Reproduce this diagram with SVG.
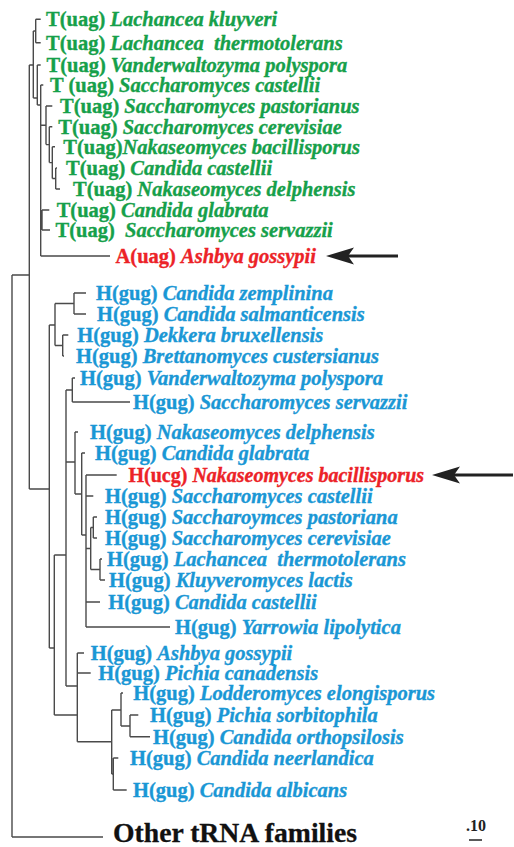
<svg xmlns="http://www.w3.org/2000/svg" width="514" height="847" viewBox="0 0 514 847">
<style>
.lbl{font-family:"Liberation Serif","Times New Roman",serif;font-weight:bold;font-size:20.5px;stroke-width:0.35px}
.sp{font-style:italic}
.g{fill:#16a04a;stroke:#16a04a}
.b{fill:#1a97d5;stroke:#1a97d5}
.r{fill:#ec2227;stroke:#ec2227}
.br{fill:none;stroke:#4a4a4a;stroke-width:1.4}
.arr{stroke:#222;stroke-width:3;fill:none}
.ah{fill:#222}
</style>
<rect width="514" height="847" fill="#fff"/>
<g id="connectors">
<path class="br" d="M12 275V837M12 275H29.3M12 837H103M29.3 65V489M29.3 65H33.3M29.3 489H49.3
M33.3 31V98M33.3 31H35.7M35.7 19.3V42.7M35.7 19.3H40.7M35.7 42.7H40.7M33.3 98H37.3
M37.3 65V105M37.3 65H40.7M37.3 105H40.7M40.7 85V256M40.7 85H43.3M40.7 125.3H46
M46 106V144.6M46 106H52.3M46 144.6H49.3M49.3 126.7V162.6M49.3 126.7H52.3M49.3 162.6H52.3
M52.3 146.7V178.5M52.3 146.7H55M52.3 178.5H55.7M55.7 168V189M55.7 168H57M55.7 189H60
M40.7 220H42M42 210V230M42 210H49.3M42 230H50M40.7 256H110"/>
<path class="br" d="M49.3 325V648M49.3 325H55M55 303.5V345.5M55 303.5H74M55 345.5H62.7
M74 293V314M74 293H86M74 314H86M62.7 335V356M62.7 335H68.3M62.7 356H64
M49.3 648H54.3M54.3 555V715M54.3 555H66M54.3 715H77.3
M66 390V686M66 390H72.3M66 462H75M66 686H77.3
M72.3 378V402M72.3 378H75M72.3 402H130
M75 432V494M75 432H78M75 494H81.7M81.7 453V535M81.7 453H85M81.7 535H86
M86 475V627M86 475H116.7M86 496H93.3M86 548.5H90.7M86 602H100M86 627H170
M90.7 527.5V569.5M90.7 527.5H93.3M90.7 569.5H100M93.3 517V538M93.3 517H97M93.3 538H97
M100 559V580M100 559H102M100 580H105
M77.3 653V741.7M77.3 653H84M77.3 673H90.7M77.3 741.7H111.7
M111.7 710V774M111.7 710H121M111.7 774H113.3M121 693V726M121 693H123M121 726H130
M130 715V736.7M130 715H138.3M130 736.7H150M113.3 758V790M113.3 758H118.3M113.3 790H126.7"/>
<path class="arr" d="M398 256H346"/>
<polygon class="ah" points="326,256 354,247.5 348,256 354,264.5"/>
<path class="arr" d="M513 475H452"/>
<polygon class="ah" points="432,475 460,466.5 454,475 460,483.5"/>
</g>
<g id="t1"><text class="lbl g" x="46" y="26.3">T(uag) <tspan class="sp">Lachancea kluyveri</tspan></text></g>
<g id="t2"><text class="lbl g" x="46" y="49.7" xml:space="preserve">T(uag) <tspan class="sp">Lachancea  thermotolerans</tspan></text></g>
<g id="t3"><text class="lbl g" x="46.5" y="72">T(uag) <tspan class="sp">Vanderwaltozyma polyspora</tspan></text></g>
<g id="t4"><text class="lbl g" x="50" y="92">T (uag) <tspan class="sp">Saccharomyces castellii</tspan></text></g>
<g id="t5"><text class="lbl g" x="60" y="113">T(uag) <tspan class="sp">Saccharomyces pastorianus</tspan></text></g>
<g id="t6"><text class="lbl g" x="58.3" y="133.7">T(uag) <tspan class="sp">Saccharomyces cerevisiae</tspan></text></g>
<g id="t7"><text class="lbl g" x="63.3" y="153.7">T(uag)<tspan class="sp">Nakaseomyces bacillisporus</tspan></text></g>
<g id="t8"><text class="lbl g" x="66" y="175">T(uag) <tspan class="sp">Candida castellii</tspan></text></g>
<g id="t9"><text class="lbl g" x="73" y="196">T(uag) <tspan class="sp">Nakaseomyces delphensis</tspan></text></g>
<g id="t10"><text class="lbl g" x="56.7" y="217">T(uag) <tspan class="sp">Candida glabrata</tspan></text></g>
<g id="t11"><text class="lbl g" x="55.5" y="237" xml:space="preserve">T(uag)  <tspan class="sp">Saccharomyces servazzii</tspan></text></g>
<g id="a12"><text class="lbl r" x="115.5" y="263">A(uag) <tspan class="sp">Ashbya gossypii</tspan></text></g>
<g id="h13"><text class="lbl b" x="96" y="300">H(gug) <tspan class="sp">Candida zemplinina</tspan></text></g>
<g id="h14"><text class="lbl b" x="97" y="321">H(gug) <tspan class="sp">Candida salmanticensis</tspan></text></g>
<g id="h15"><text class="lbl b" x="77.3" y="342">H(gug) <tspan class="sp">Dekkera bruxellensis</tspan></text></g>
<g id="h16"><text class="lbl b" x="76" y="363">H(gug) <tspan class="sp">Brettanomyces custersianus</tspan></text></g>
<g id="h17"><text class="lbl b" x="80" y="385">H(gug) <tspan class="sp">Vanderwaltozyma polyspora</tspan></text></g>
<g id="h18"><text class="lbl b" x="133" y="409">H(gug) <tspan class="sp">Saccharomyces servazzii</tspan></text></g>
<g id="h19"><text class="lbl b" x="90" y="439">H(gug) <tspan class="sp">Nakaseomyces delphensis</tspan></text></g>
<g id="h20"><text class="lbl b" x="95" y="460">H(gug) <tspan class="sp">Candida glabrata</tspan></text></g>
<g id="h21"><text class="lbl r" x="128.5" y="482" style="font-size:20px">H(ucg) <tspan class="sp">Nakaseomyces bacillisporus</tspan></text></g>
<g id="h22"><text class="lbl b" x="105" y="503">H(gug) <tspan class="sp">Saccharomyces castellii</tspan></text></g>
<g id="h23"><text class="lbl b" x="105" y="524">H(gug) <tspan class="sp">Saccharoymces pastoriana</tspan></text></g>
<g id="h24"><text class="lbl b" x="105" y="545">H(gug) <tspan class="sp">Saccharomyces cerevisiae</tspan></text></g>
<g id="h25"><text class="lbl b" x="107" y="566" xml:space="preserve">H(gug) <tspan class="sp">Lachancea  thermotolerans</tspan></text></g>
<g id="h26"><text class="lbl b" x="109" y="587">H(gug) <tspan class="sp">Kluyveromyces lactis</tspan></text></g>
<g id="h27"><text class="lbl b" x="108.3" y="609">H(gug) <tspan class="sp">Candida castellii</tspan></text></g>
<g id="h28"><text class="lbl b" x="175" y="634">H(gug) <tspan class="sp">Yarrowia lipolytica</tspan></text></g>
<g id="h29"><text class="lbl b" x="90.7" y="660">H(gug) <tspan class="sp">Ashbya gossypii</tspan></text></g>
<g id="h30"><text class="lbl b" x="98.3" y="680">H(gug) <tspan class="sp">Pichia canadensis</tspan></text></g>
<g id="h31"><text class="lbl b" x="133.3" y="700">H(gug) <tspan class="sp">Lodderomyces elongisporus</tspan></text></g>
<g id="h32"><text class="lbl b" x="150" y="722">H(gug) <tspan class="sp">Pichia sorbitophila</tspan></text></g>
<g id="h33"><text class="lbl b" x="153" y="744">H(gug) <tspan class="sp">Candida orthopsilosis</tspan></text></g>
<g id="h34"><text class="lbl b" x="130" y="765">H(gug) <tspan class="sp">Candida neerlandica</tspan></text></g>
<g id="h35"><text class="lbl b" x="133" y="797">H(gug) <tspan class="sp">Candida albicans</tspan></text></g>
<g id="other"><text x="113" y="842" style="font-family:'Liberation Serif','Times New Roman',serif;font-weight:bold;font-size:27.7px;fill:#111;stroke:#111;stroke-width:0.3px">Other tRNA families</text></g>
<g id="scale"><text x="466" y="831" style="font-family:'Liberation Serif','Times New Roman',serif;font-weight:bold;font-size:16px;fill:#222">.10</text><path d="M469 840H482" stroke="#222" stroke-width="1.5"/></g>
</svg>
